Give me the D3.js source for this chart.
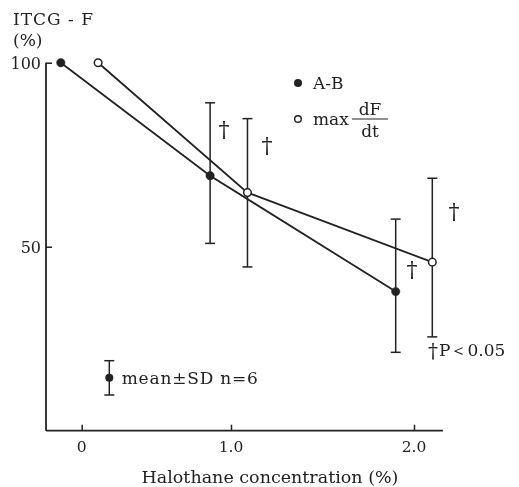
<!DOCTYPE html>
<html><head><meta charset="utf-8">
<script src="https://cdn.jsdelivr.net/npm/d3@7/dist/d3.min.js"></script>
<style>
html,body{margin:0;padding:0;background:#fff;}
svg text{font-family:"DejaVu Serif","Liberation Serif",serif;fill:#222;}
#c{filter:grayscale(1);}
</style></head>
<body><svg id="c" width="519" height="487"></svg>
<script>
// ---- data ----
const xTickValues = [0, 1, 2];
const xTickLabels = ["0", "1.0", "2.0"];
const yTickValues = [50, 100];
const yTickLabels = ["50", "100"];

const abX     = [-0.14, 0.86, 1.90];
const abMean  = [100, 69.3, 37.8];
const abUpper = [null, 89.1, 57.5];
const abLower = [null, 50.9, 21.3];

const mxX     = [0.11, 1.09, 2.10];
const mxMean  = [100, 64.7, 45.8];
const mxUpper = [null, 84.8, 68.6];
const mxLower = [null, 44.5, 25.5];

const daggerX = [0.953, 1.197, 1.989, 2.219];
const daggerY = [82.3, 77.9, 44.2, 59.9];

// ---- scales ----
const svg = d3.select("#c");
const x = d3.scaleLinear().domain([0, 1, 2]).range([81.7, 231, 414]);
const y = d3.scaleLinear().domain([0, 100]).range([430.7, 62.7]);
const xMin = -0.239, xMax = 2.158;
const ink = "#222";
const g = svg.append("g");
const t = svg.append("g");

// axes lines
g.append("line").attr("x1", x(xMin)).attr("x2", x(xMax)).attr("y1", y(0)).attr("y2", y(0))
  .attr("stroke", ink).attr("stroke-width", 1.8);
g.append("line").attr("x1", x(xMin)).attr("x2", x(xMin)).attr("y1", y(0)).attr("y2", y(100))
  .attr("stroke", ink).attr("stroke-width", 1.8);

// x axis ticks (pointing up), labels below
const xAxis = d3.axisTop(x).tickValues(xTickValues).tickSize(6).tickFormat("");
const xg = g.append("g").attr("transform", `translate(0,${y(0)})`).call(xAxis);
xg.select(".domain").remove();
xg.selectAll(".tick line").attr("stroke", ink).attr("stroke-width", 1.5);
t.selectAll(".xlab").data(xTickValues).enter().append("text")
  .attr("x", d => x(d)).attr("y", 452).attr("text-anchor", "middle")
  .attr("font-size", 15.5).text((d, i) => xTickLabels[i]);

// y axis ticks pointing right
const yAxis = d3.axisRight(y).tickValues(yTickValues).tickSize(6).tickFormat("");
const yg = g.append("g").attr("transform", `translate(${x(xMin)},0)`).call(yAxis);
yg.select(".domain").remove();
yg.selectAll(".tick line").attr("stroke", ink).attr("stroke-width", 1.5);
t.selectAll(".ylab").data(yTickValues).enter().append("text")
  .attr("x", 41).attr("y", d => y(d) + 6).attr("text-anchor", "end")
  .attr("font-size", 16).text((d, i) => yTickLabels[i]);

// titles
t.append("text").attr("x", 13).attr("y", 25).attr("font-size", 17).attr("letter-spacing", 1).text("ITCG - F");
t.append("text").attr("x", 13).attr("y", 46).attr("font-size", 17).text("(%)");
t.append("text").attr("x", 270).attr("y", 483).attr("text-anchor", "middle").attr("font-size", 17.5)
  .text("Halothane concentration (%)");

// series
function series(xs, means, ups, lows, filled) {
  const line = d3.line().x((d, i) => x(xs[i])).y(d => y(d));
  g.append("path").attr("d", line(means)).attr("fill", "none").attr("stroke", ink).attr("stroke-width", 1.8);
  xs.forEach((xv, i) => {
    if (ups[i] == null) return;
    const cx = x(xv);
    g.append("line").attr("x1", cx).attr("x2", cx).attr("y1", y(ups[i])).attr("y2", y(lows[i]))
      .attr("stroke", ink).attr("stroke-width", 1.5);
    [ups[i], lows[i]].forEach(v => {
      g.append("line").attr("x1", cx - 5).attr("x2", cx + 5).attr("y1", y(v)).attr("y2", y(v))
        .attr("stroke", ink).attr("stroke-width", 1.5);
    });
  });
  g.selectAll(null).data(means).enter().append("circle")
    .attr("cx", (d, i) => x(xs[i])).attr("cy", d => y(d)).attr("r", filled ? 4.2 : 3.8)
    .attr("fill", filled ? ink : "#fff").attr("stroke", ink).attr("stroke-width", filled ? 0.5 : 1.5);
}
series(abX, abMean, abUpper, abLower, true);
series(mxX, mxMean, mxUpper, mxLower, false);

// daggers
t.selectAll(".dag").data(daggerX).enter().append("text")
  .attr("x", d => x(d)).attr("y", (d, i) => y(daggerY[i]) + 9).attr("text-anchor", "middle")
  .attr("font-size", 22).text("†");

// legend
g.append("circle").attr("cx", 298).attr("cy", 83).attr("r", 4).attr("fill", ink);
t.append("text").attr("x", 313).attr("y", 89).attr("font-size", 17).text("A-B");
g.append("circle").attr("cx", 298).attr("cy", 119).attr("r", 3.3).attr("fill", "#fff").attr("stroke", ink).attr("stroke-width", 1.4);
t.append("text").attr("x", 313).attr("y", 125).attr("font-size", 17).text("max");
g.append("line").attr("x1", 352).attr("x2", 388).attr("y1", 119).attr("y2", 119).attr("stroke", ink).attr("stroke-width", 1);
t.append("text").attr("x", 370).attr("y", 115).attr("text-anchor", "middle").attr("font-size", 17).text("dF");
t.append("text").attr("x", 370).attr("y", 137).attr("text-anchor", "middle").attr("font-size", 17).text("dt");

// mean ± SD key
g.append("line").attr("x1", 109.3).attr("x2", 109.3).attr("y1", 360.7).attr("y2", 395).attr("stroke", ink).attr("stroke-width", 1.5);
[360.7, 395].forEach(v => g.append("line").attr("x1", 104.3).attr("x2", 114.3).attr("y1", v).attr("y2", v).attr("stroke", ink).attr("stroke-width", 1.5));
g.append("circle").attr("cx", 109.3).attr("cy", 377.7).attr("r", 4).attr("fill", ink);
t.append("text").attr("x", 121.7).attr("y", 383.5).attr("font-size", 17).attr("letter-spacing", 0.8).text("mean±SD  n=6");

// P<0.05 note
t.append("text").attr("x", 433).attr("y", 358).attr("text-anchor", "middle").attr("font-size", 20).text("†");
t.append("text").attr("x", 439).attr("y", 356).attr("font-size", 17).text("P＜0.05");
</script></body></html>
